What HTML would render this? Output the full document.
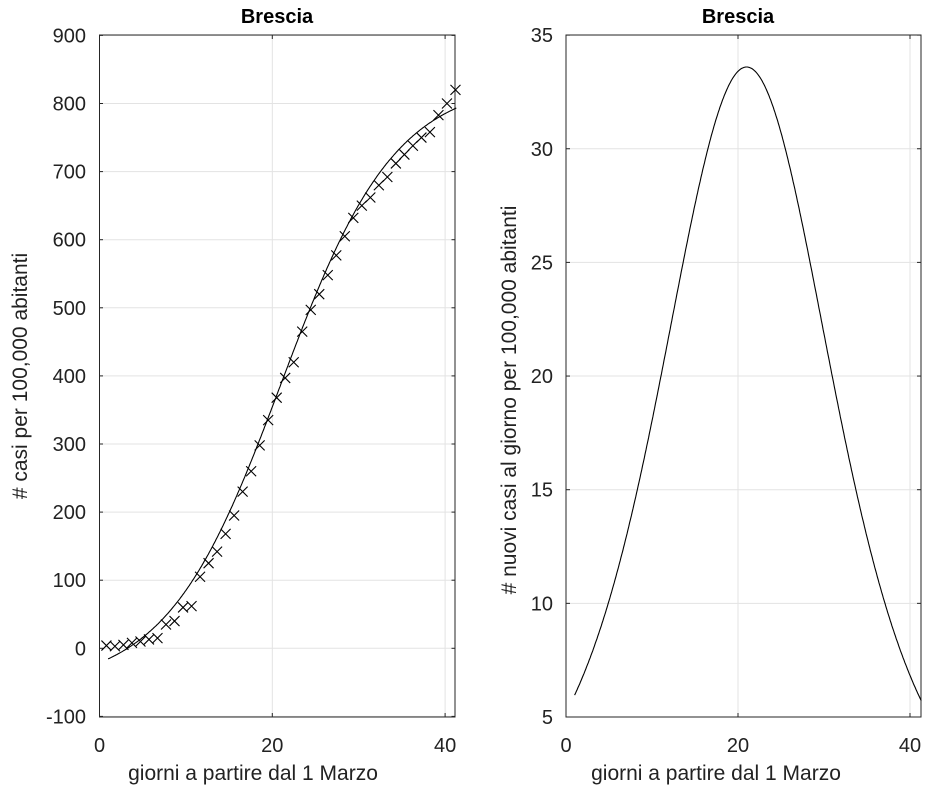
<!DOCTYPE html>
<html><head><meta charset="utf-8"><style>
body{margin:0;background:#fff;}
svg{display:block;font-family:"Liberation Sans",sans-serif;}
</style></head><body>
<svg id="s" width="944" height="790" xmlns="http://www.w3.org/2000/svg"></svg>
<script>
const s=document.getElementById('s');let h='';
h+='<rect width="944" height="790" fill="#fff"/>';
const lx=x=>99.5+x*8.64, ly=y=>648.3-y*0.681;
const rx=x=>566+x*8.6, ry=y=>717-(y-5)*22.73;
for(let v=-100;v<=900;v+=100){const y=ly(v);h+=`<line x1="99.5" x2="455" y1="${y}" y2="${y}" stroke="#e3e3e3"/>`;
h+=`<text x="86" y="${y+7}" font-size="20" text-anchor="end" fill="#222">${v}</text>`;
h+=`<line x1="99.5" x2="103" y1="${y}" y2="${y}" stroke="#262626"/><line x1="451.5" x2="455" y1="${y}" y2="${y}" stroke="#262626"/>`;}
for(const v of [0,20,40]){const x=lx(v);if(v>0)h+=`<line x1="${x}" x2="${x}" y1="35" y2="717" stroke="#e3e3e3"/>`;
h+=`<text x="${x}" y="752" font-size="20" text-anchor="middle" fill="#222">${v}</text>`;
h+=`<line x1="${x}" x2="${x}" y1="713" y2="717" stroke="#262626"/><line x1="${x}" x2="${x}" y1="35" y2="39" stroke="#262626"/>`;}
h+=`<rect x="99.5" y="35" width="355.5" height="682" fill="none" stroke="#262626"/>`;
h+=`<text x="277" y="23" font-size="20" font-weight="bold" text-anchor="middle">Brescia</text>`;
h+=`<text x="253" y="780" font-size="21" text-anchor="middle" fill="#222">giorni a partire dal 1 Marzo</text>`;
h+=`<text transform="translate(27,376) rotate(-90)" font-size="21" text-anchor="middle" fill="#222"># casi per 100,000 abitanti</text>`;
for(let v=5;v<=35;v+=5){const y=ry(v);h+=`<line x1="566" x2="921" y1="${y}" y2="${y}" stroke="#e3e3e3"/>`;
h+=`<text x="553" y="${y+7}" font-size="20" text-anchor="end" fill="#222">${v}</text>`;
h+=`<line x1="566" x2="570" y1="${y}" y2="${y}" stroke="#262626"/><line x1="917" x2="921" y1="${y}" y2="${y}" stroke="#262626"/>`;}
for(const v of [0,20,40]){const x=rx(v);if(v>0)h+=`<line x1="${x}" x2="${x}" y1="35" y2="717" stroke="#e3e3e3"/>`;
h+=`<text x="${x}" y="752" font-size="20" text-anchor="middle" fill="#222">${v}</text>`;
h+=`<line x1="${x}" x2="${x}" y1="713" y2="717" stroke="#262626"/><line x1="${x}" x2="${x}" y1="35" y2="39" stroke="#262626"/>`;}
h+=`<rect x="566" y="35" width="355" height="682" fill="none" stroke="#262626"/>`;
h+=`<text x="738" y="23" font-size="20" font-weight="bold" text-anchor="middle">Brescia</text>`;
h+=`<text x="716" y="780" font-size="21" text-anchor="middle" fill="#222">giorni a partire dal 1 Marzo</text>`;
h+=`<text transform="translate(516,400) rotate(-90)" font-size="21" text-anchor="middle" fill="#222"># nuovi casi al giorno per 100,000 abitanti</text>`;
const k=0.151,Lm=890,c=-57;let p1='',p2='';
for(let x=1;x<=41.31;x+=0.1){const e=Math.exp(-k*(x-21));const sv=1/(1+e);
p1+=(p1?'L':'M')+lx(x).toFixed(1)+','+ly(Lm*sv+c).toFixed(1);
p2+=(p2?'L':'M')+rx(x).toFixed(1)+','+ry(Lm*k*sv*(1-sv)).toFixed(1);}
h+=`<path d="${p1}" fill="none" stroke="#000" stroke-width="1.1"/>`;
h+=`<path d="${p2}" fill="none" stroke="#000" stroke-width="1.1"/>`;
const d=[4,3,5,8,10,13,15,35,40,60,62,105,125,142,168,195,230,260,298,335,368,397,420,465,497,520,548,577,605,632,650,662,680,692,712,725,738,750,758,783,800,820];
const n=d.length;
for(let i=0;i<n;i++){const x=lx(0.8+i*(40.4/(n-1))),y=ly(d[i]);
h+=`<path d="M${x-5},${y-5}L${x+5},${y+5}M${x-5},${y+5}L${x+5},${y-5}" stroke="#000" stroke-width="1.1"/>`;}
s.innerHTML=h;
</script>
</body></html>
